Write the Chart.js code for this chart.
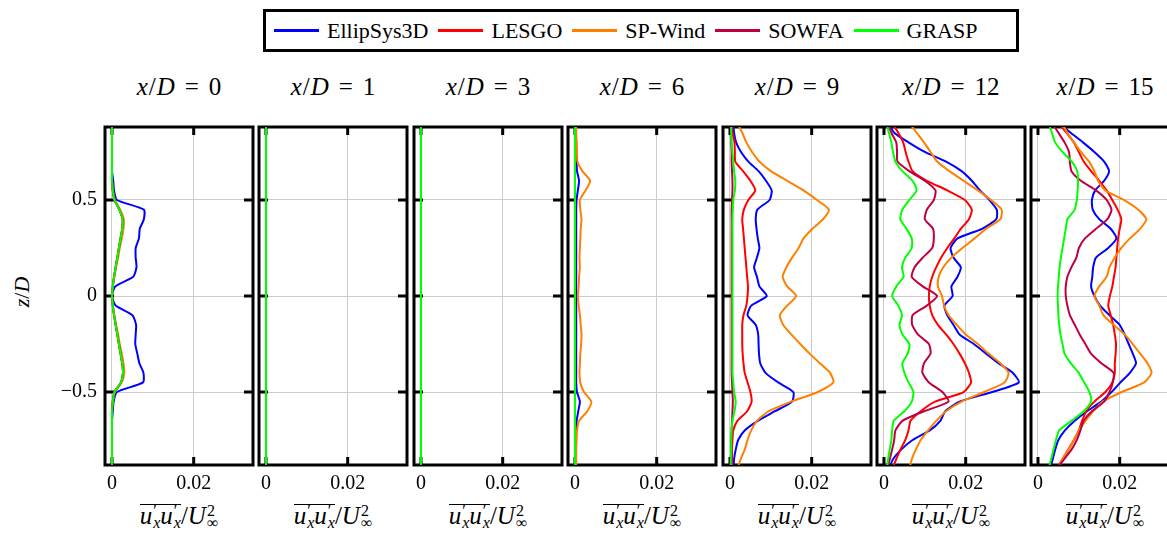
<!DOCTYPE html>
<html>
<head>
<meta charset="utf-8">
<script src="https://cdn.jsdelivr.net/npm/chart.js@4.4.1/dist/chart.umd.min.js"></script>
<style>
  html, body { margin: 0; padding: 0; background: #fff; }
  body { width: 1167px; height: 533px; position: relative; overflow: hidden; font-family: 'Liberation Serif', serif; color: #000; }
  canvas { position: absolute; }
  .title { position: absolute; top: 72px; width: 160px; text-align: center; font-size: 25px; line-height: 30px; white-space: nowrap; }
  .title .sl { margin: 0 1px; }
  .title .eq { margin: 0 10px; }
  .xt { position: absolute; top: 502px; width: 160px; text-align: center; font-size: 25px; line-height: 28px; white-space: nowrap; }
  .ov { display: inline-block; border-top: 1.5px solid #000; line-height: 22px; }
  .ss { display: inline-flex; flex-direction: column; font-size: 16px; line-height: 12px; vertical-align: 8px; text-align: left; margin-left: 1px; }
  .ylab { position: absolute; left: 0px; top: 279px; width: 44px; text-align: center; font-size: 22px; line-height: 26px; transform: rotate(-90deg); }
  #legend { position: absolute; left: 263px; top: 9px; width: 756px; height: 43px; box-sizing: border-box; border: 3px solid #000; display: flex; align-items: center; padding-left: 8px; font-size: 22px; }
  #legend .ln { width: 45px; height: 3px; margin-right: 8px; }
  #legend .tx { margin-right: 10px; }
</style>
</head>
<body>
<div id="legend"></div>
<div class="ylab"><i>z</i>/<i>D</i></div>
<script>
// z/D levels shared by every profile (top to bottom)
const zLevels = [0.9, 0.85, 0.8, 0.75, 0.7, 0.65, 0.6, 0.55, 0.5, 0.45, 0.4, 0.35, 0.3, 0.25, 0.2, 0.15, 0.1, 0.05, 0,
  -0.05, -0.1, -0.15, -0.2, -0.25, -0.3, -0.35, -0.4, -0.45, -0.5, -0.55, -0.6, -0.65, -0.7, -0.75, -0.8, -0.85, -0.9];

const panelLabels = ['0', '1', '3', '6', '9', '12', '15'];
const seriesNames = ['EllipSys3D', 'LESGO', 'SP-Wind', 'SOWFA', 'GRASP'];
const seriesColors = ['#0000ff', '#ff0000', '#ff8000', '#bf0040', '#00ff00'];
const xTicks = [0, 0.02];
const yTicks = [-0.5, 0, 0.5];

// one row per panel (x/D = 0, 1, 3, 6, 9, 12, 15)
const ellipsys = [
  [0,0,0,0,0,0,0.0003,0.0005,0.0012,0.0078,0.0078,0.0068,0.0066,0.0058,0.0058,0.006,0.0052,0.0008,0,0.0009,0.005,0.0059,0.0058,0.0057,0.0062,0.0067,0.0077,0.0076,0.0012,0.0004,0.0002,0,0,0,0,0,0],
  [0,0,0,0,0,0,0,0,0,0,0,0,0,0,0,0,0,0,0,0,0,0,0,0,0,0,0,0,0,0,0,0,0,0,0,0,0],
  [0,0,0,0,0,0,0,0,0,0,0,0,0,0,0,0,0,0,0,0,0,0,0,0,0,0,0,0,0,0,0,0,0,0,0,0,0],
  [0.0002,0.0002,0.0003,0.0003,0.0004,0.0005,0.0010,0.0007,0.0004,0.0003,0.0003,0.0003,0.0003,0.0003,0.0003,0.0003,0.0003,0.0003,0.0003,0.0003,0.0003,0.0003,0.0003,0.0003,0.0003,0.0003,0.0003,0.0003,0.0005,0.0012,0.0008,0.0004,0.0003,0.0002,0.0002,0.0002,0.0002],
  [0.0008,0.0010,0.0015,0.0027,0.0045,0.0070,0.0088,0.0102,0.0097,0.0067,0.0063,0.0065,0.0068,0.0072,0.0066,0.0059,0.0066,0.0072,0.0090,0.0052,0.0043,0.0063,0.0069,0.0070,0.0071,0.0074,0.0087,0.0118,0.0155,0.0152,0.0110,0.0068,0.0036,0.0020,0.0014,0.0010,0.0009],
  [0.0012,0.0025,0.0060,0.0100,0.0152,0.0190,0.0215,0.0235,0.0258,0.0276,0.0275,0.0240,0.0180,0.0163,0.0170,0.0188,0.0180,0.0165,0.0168,0.0148,0.0155,0.0170,0.0185,0.0220,0.0250,0.0280,0.0315,0.0330,0.0265,0.0185,0.0150,0.0138,0.0112,0.0070,0.0042,0.0022,0.0012],
  [0.0052,0.0080,0.0110,0.0138,0.0162,0.0174,0.0162,0.0140,0.0132,0.0134,0.0150,0.0178,0.0192,0.0172,0.0142,0.0135,0.0133,0.0130,0.0138,0.0152,0.0175,0.0200,0.0212,0.0222,0.0232,0.0240,0.0225,0.0202,0.0180,0.0155,0.0120,0.0090,0.0066,0.0050,0.0042,0.0036,0.0030]
];
const lesgo = [
  [0,0,0,0,0,0,0,0.0002,0.0006,0.0018,0.0026,0.0025,0.0021,0.0017,0.0013,0.0009,0.0005,0.0002,0,0.0002,0.0005,0.0009,0.0013,0.0017,0.0021,0.0025,0.0027,0.0022,0.0006,0.0002,0,0,0,0,0,0,0],
  [0,0,0,0,0,0,0,0,0,0,0,0,0,0,0,0,0,0,0,0,0,0,0,0,0,0,0,0,0,0,0,0,0,0,0,0,0],
  [0,0,0,0,0,0,0,0,0,0,0,0,0,0,0,0,0,0,0,0,0,0,0,0,0,0,0,0,0,0,0,0,0,0,0,0,0],
  [0,0,0,0,0,0,0,0,0,0,0,0,0,0,0,0,0,0,0,0,0,0,0,0,0,0,0,0,0,0,0,0,0,0,0,0,0],
  [0.0005,0.0006,0.0011,0.0012,0.0013,0.0032,0.0050,0.0062,0.0045,0.0034,0.0030,0.0032,0.0034,0.0036,0.0038,0.0040,0.0042,0.0044,0.0043,0.0040,0.0033,0.0030,0.0030,0.0030,0.0031,0.0033,0.0036,0.0043,0.0050,0.0053,0.0042,0.0018,0.0008,0.0006,0.0005,0.0005,0.0005],
  [0.0020,0.0035,0.0047,0.0053,0.0060,0.0070,0.0105,0.0155,0.0198,0.0215,0.0208,0.0188,0.0172,0.0155,0.0140,0.0128,0.0118,0.0112,0.0110,0.0112,0.0118,0.0132,0.0152,0.0170,0.0185,0.0198,0.0208,0.0213,0.0195,0.0125,0.0090,0.0065,0.0060,0.0052,0.0040,0.0030,0.0020],
  [0.0050,0.0070,0.0088,0.0100,0.0112,0.0130,0.0150,0.0168,0.0182,0.0195,0.0204,0.0200,0.0196,0.0194,0.0192,0.0190,0.0186,0.0182,0.0176,0.0172,0.0178,0.0184,0.0188,0.0191,0.0190,0.0188,0.0188,0.0182,0.0165,0.0138,0.0118,0.0108,0.0100,0.0088,0.0074,0.0060,0.0046]
];
const spwind = [
  [0,0,0,0,0,0,0,0.0002,0.0007,0.0020,0.0029,0.0028,0.0024,0.0019,0.0015,0.0010,0.0006,0.0002,0,0.0002,0.0006,0.0010,0.0015,0.0019,0.0024,0.0028,0.0030,0.0024,0.0007,0.0002,0,0,0,0,0,0,0],
  [0,0,0,0,0,0,0,0,0,0,0,0,0,0,0,0,0,0,0,0,0,0,0,0,0,0,0,0,0,0,0,0,0,0,0,0,0],
  [0,0,0,0,0,0,0,0,0,0,0,0,0,0,0,0,0,0,0,0,0,0,0,0,0,0,0,0,0,0,0,0,0,0,0,0,0],
  [0.0003,0.0003,0.0004,0.0005,0.0006,0.0018,0.0037,0.0026,0.0012,0.0013,0.0016,0.0014,0.0013,0.0012,0.0011,0.0012,0.0010,0.0009,0.0007,0.0009,0.0012,0.0014,0.0016,0.0015,0.0013,0.0012,0.0011,0.0013,0.0022,0.0040,0.0030,0.0010,0.0005,0.0004,0.0003,0.0003,0.0003],
  [0.0018,0.0030,0.0040,0.0054,0.0072,0.0100,0.0140,0.0180,0.0213,0.0242,0.0228,0.0202,0.0180,0.0168,0.0152,0.0138,0.0129,0.0140,0.0162,0.0140,0.0122,0.0130,0.0150,0.0172,0.0195,0.0220,0.0245,0.0253,0.0215,0.0150,0.0095,0.0066,0.0052,0.0043,0.0036,0.0026,0.0018],
  [0.0062,0.0080,0.0098,0.0114,0.0130,0.0160,0.0195,0.0230,0.0262,0.0288,0.0285,0.0250,0.0222,0.0192,0.0165,0.0145,0.0134,0.0132,0.0142,0.0147,0.0158,0.0178,0.0200,0.0230,0.0256,0.0285,0.0305,0.0295,0.0245,0.0190,0.0152,0.0128,0.0108,0.0090,0.0078,0.0068,0.0062],
  [0.0058,0.0072,0.0088,0.0105,0.0125,0.0138,0.0147,0.0165,0.0210,0.0245,0.0265,0.0250,0.0225,0.0204,0.0188,0.0175,0.0168,0.0150,0.0138,0.0150,0.0160,0.0185,0.0212,0.0232,0.0250,0.0268,0.0278,0.0260,0.0205,0.0158,0.0135,0.0116,0.0100,0.0088,0.0075,0.0060,0.0050]
];
const sowfa = [
  [0,0,0,0,0,0,0,0.0002,0.0006,0.0018,0.0026,0.0025,0.0021,0.0017,0.0013,0.0009,0.0005,0.0002,0,0.0002,0.0005,0.0009,0.0013,0.0017,0.0021,0.0025,0.0027,0.0022,0.0006,0.0002,0,0,0,0,0,0,0],
  [0,0,0,0,0,0,0,0,0,0,0,0,0,0,0,0,0,0,0,0,0,0,0,0,0,0,0,0,0,0,0,0,0,0,0,0,0],
  [0,0,0,0,0,0,0,0,0,0,0,0,0,0,0,0,0,0,0,0,0,0,0,0,0,0,0,0,0,0,0,0,0,0,0,0,0],
  [0,0,0,0,0,0,0,0,0,0,0,0,0,0,0,0,0,0,0,0,0,0,0,0,0,0,0,0,0,0,0,0,0,0,0,0,0],
  [0.0002,0.0003,0.0003,0.0004,0.0004,0.0005,0.0006,0.0006,0.0005,0.0004,0.0004,0.0004,0.0004,0.0004,0.0004,0.0004,0.0004,0.0004,0.0004,0.0004,0.0004,0.0004,0.0004,0.0004,0.0004,0.0004,0.0004,0.0005,0.0006,0.0007,0.0006,0.0005,0.0004,0.0003,0.0003,0.0002,0.0002],
  [0.0010,0.0018,0.0030,0.0032,0.0033,0.0062,0.0100,0.0126,0.0122,0.0105,0.0100,0.0120,0.0122,0.0118,0.0095,0.0075,0.0068,0.0095,0.0130,0.0105,0.0070,0.0069,0.0083,0.0110,0.0114,0.0098,0.0094,0.0110,0.0143,0.0158,0.0098,0.0045,0.0028,0.0025,0.0020,0.0014,0.0008],
  [0.0035,0.0050,0.0065,0.0076,0.0078,0.0082,0.0105,0.0142,0.0168,0.0180,0.0170,0.0142,0.0115,0.0100,0.0094,0.0082,0.0072,0.0068,0.0068,0.0072,0.0078,0.0090,0.0102,0.0116,0.0130,0.0155,0.0185,0.0183,0.0175,0.0162,0.0132,0.0112,0.0104,0.0095,0.0082,0.0064,0.0046]
];
const grasp = [
  [0,0,0,0,0,0,0,0.0002,0.0006,0.0018,0.0026,0.0025,0.0021,0.0017,0.0013,0.0009,0.0005,0.0002,0,0.0002,0.0005,0.0009,0.0013,0.0017,0.0021,0.0025,0.0027,0.0022,0.0006,0.0002,0,0,0,0,0,0,0],
  [0,0,0,0,0,0,0,0,0,0,0,0,0,0,0,0,0,0,0,0,0,0,0,0,0,0,0,0,0,0,0,0,0,0,0,0,0],
  [0,0,0,0,0,0,0,0,0,0,0,0,0,0,0,0,0,0,0,0,0,0,0,0,0,0,0,0,0,0,0,0,0,0,0,0,0],
  [0,0,0,0,0,0,0,0,0,0,0,0,0,0,0,0,0,0,0,0,0,0,0,0,0,0,0,0,0,0,0,0,0,0,0,0,0],
  [0.0002,0.0003,0.0004,0.0006,0.0008,0.0010,0.0013,0.0012,0.0008,0.0007,0.0006,0.0006,0.0006,0.0006,0.0006,0.0006,0.0006,0.0006,0.0006,0.0006,0.0006,0.0006,0.0006,0.0006,0.0006,0.0006,0.0006,0.0008,0.0010,0.0014,0.0011,0.0006,0.0004,0.0003,0.0003,0.0002,0.0002],
  [0.0006,0.0012,0.0018,0.0022,0.0028,0.0045,0.0070,0.0080,0.0062,0.0045,0.0040,0.0055,0.0068,0.0068,0.0052,0.0044,0.0048,0.0030,0.0020,0.0035,0.0044,0.0038,0.0045,0.0062,0.0058,0.0045,0.0050,0.0060,0.0072,0.0068,0.0050,0.0024,0.0020,0.0018,0.0014,0.0010,0.0006],
  [0.0026,0.0034,0.0042,0.0060,0.0083,0.0096,0.0098,0.0097,0.0095,0.0090,0.0072,0.0068,0.0064,0.0060,0.0056,0.0053,0.0051,0.0049,0.0048,0.0049,0.0050,0.0052,0.0055,0.0060,0.0065,0.0080,0.0100,0.0113,0.0126,0.0130,0.0112,0.0082,0.0052,0.0044,0.0038,0.0032,0.0026]
];
const allSeries = [ellipsys, lesgo, spwind, sowfa, grasp];

const xMin = -0.00171, xMax = 0.03452;
const zMin = -0.88, zMax = 0.88;

// layout of the panels (pixels)
const plotLeft0 = 105, plotStep = 154.4, plotW = 148, plotTop = 127, plotH = 338;
const pad = 3, yAxisW = 60, xAxisH = 34;
const tickFont = { family: 'Liberation Serif', size: 20 };

// legend
const legend = document.getElementById('legend');
seriesNames.forEach((name, i) => {
  legend.insertAdjacentHTML('beforeend',
    '<span class="ln" style="background:' + seriesColors[i] + '"></span><span class="tx">' + name + '</span>');
});

// inner tick marks and frame, drawn under the curves
const framePlugin = {
  id: 'frame',
  beforeDatasetsDraw(chart) {
    const { ctx, chartArea: a, scales: { x, y } } = chart;
    ctx.save();
    ctx.strokeStyle = '#000';
    ctx.lineWidth = 3;
    ctx.beginPath();
    yTicks.forEach(v => {
      const py = y.getPixelForValue(v);
      ctx.moveTo(a.left, py); ctx.lineTo(a.left + 9, py);
      ctx.moveTo(a.right, py); ctx.lineTo(a.right - 9, py);
    });
    xTicks.forEach(v => {
      const px = x.getPixelForValue(v);
      ctx.moveTo(px, a.top); ctx.lineTo(px, a.top + 8);
      ctx.moveTo(px, a.bottom); ctx.lineTo(px, a.bottom - 8);
    });
    ctx.stroke();
    ctx.strokeRect(a.left, a.top, a.right - a.left, a.bottom - a.top);
    ctx.restore();
  }
};

const fmtTick = v => v < 0 ? '\u2212' + Math.abs(v) : String(v);

panelLabels.forEach((lab, p) => {
  const left = Math.round(plotLeft0 + p * plotStep);
  const yW = p === 0 ? yAxisW : 0;
  const canvas = document.createElement('canvas');
  canvas.width = pad + yW + plotW + pad;
  canvas.height = pad + plotH + xAxisH;
  canvas.style.left = (left - pad - yW) + 'px';
  canvas.style.top = (plotTop - pad) + 'px';
  document.body.appendChild(canvas);

  const datasets = seriesNames.map((name, s) => ({
    label: name,
    data: zLevels.map((z, k) => ({ x: allSeries[s][p][k], y: z })),
    showLine: true,
    borderColor: seriesColors[s],
    borderWidth: 2,
    pointRadius: 0,
    tension: 0.2,
    clip: 0,
    order: seriesNames.length - 1 - s
  }));

  new Chart(canvas, {
    type: 'scatter',
    data: { datasets },
    options: {
      responsive: false,
      animation: false,
      events: [],
      layout: { padding: { left: pad, right: pad, top: pad, bottom: 0 } },
      plugins: { legend: { display: false }, tooltip: { enabled: false } },
      scales: {
        x: {
          type: 'linear', min: xMin, max: xMax,
          afterBuildTicks: s => { s.ticks = xTicks.map(v => ({ value: v })); },
          afterFit: s => { s.height = xAxisH; s.paddingLeft = 0; s.paddingRight = 0; },
          grid: { color: '#cccccc', lineWidth: 1, drawTicks: false },
          border: { display: false },
          ticks: { padding: 7, font: tickFont, color: '#000', maxRotation: 0, callback: fmtTick }
        },
        y: {
          type: 'linear', min: zMin, max: zMax,
          afterBuildTicks: s => { s.ticks = yTicks.map(v => ({ value: v })); },
          afterFit: s => { s.width = yW; s.paddingTop = 0; s.paddingBottom = 0; },
          grid: { color: '#cccccc', lineWidth: 1, drawTicks: false },
          border: { display: false },
          ticks: { display: p === 0, padding: 8, font: tickFont, color: '#000', callback: fmtTick }
        }
      }
    },
    plugins: [framePlugin]
  });

  const cx = left + plotW / 2;
  document.body.insertAdjacentHTML('beforeend',
    '<div class="title" style="left:' + (cx - 80) + 'px"><i>x</i><span class="sl">/</span><i>D</i><span class="eq">=</span>' + lab + '</div>');
  document.body.insertAdjacentHTML('beforeend',
    '<div class="xt" style="left:' + (cx - 80) + 'px"><span class="ov"><i>u</i><span class="ss"><span>\u2032</span><i>x</i></span>' +
    '<i>u</i><span class="ss"><span>\u2032</span><i>x</i></span></span>/<i>U</i><span class="ss"><span>2</span><span>\u221e</span></span></div>');
});
</script>
</body>
</html>
